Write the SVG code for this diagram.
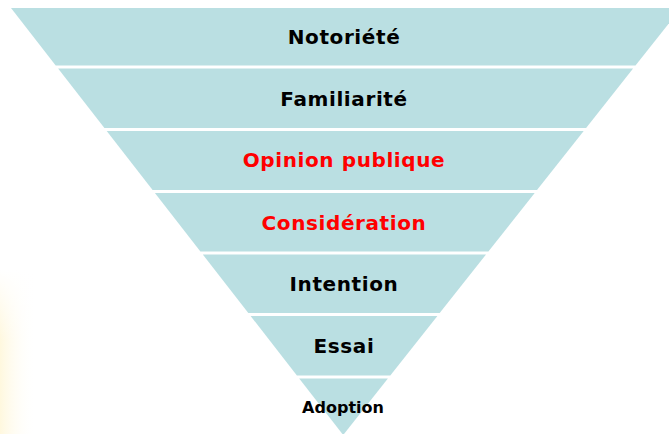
<svg xmlns="http://www.w3.org/2000/svg" width="669" height="434" viewBox="0 0 669 434">
  <style>
    .band { fill: #BADFE2; }
    .lbl { font-family: "DejaVu Sans", Verdana, sans-serif; font-weight: bold; font-size: 20px; letter-spacing: 0.6px; text-anchor: middle; fill: #000000; }
    .red { fill: #FF0000; }
    .small { font-size: 16px; letter-spacing: 0px; }
  </style>
  <defs>
    <linearGradient id="glow" x1="0" y1="0" x2="1" y2="0">
      <stop offset="0" stop-color="#FFF3C8" stop-opacity="0.6"/>
      <stop offset="1" stop-color="#FFFFFF" stop-opacity="0"/>
    </linearGradient>
    <linearGradient id="glowV" x1="0" y1="0" x2="0" y2="1">
      <stop offset="0" stop-color="#FFFFFF" stop-opacity="1"/>
      <stop offset="1" stop-color="#FFFFFF" stop-opacity="0"/>
    </linearGradient>
  </defs>
  <rect width="669" height="434" fill="#FFFFFF"/>
  <rect x="0" y="270" width="36" height="164" fill="url(#glow)"/>
  <rect x="0" y="270" width="36" height="70" fill="url(#glowV)"/>

  <g id="notoriete">
    <polygon class="band" points="11,8 681,8 635.5,65.5 55.7,65.5"/>
    <text class="lbl" x="344" y="44">Notoriété</text>
  </g>
  <g id="familiarite">
    <polygon class="band" points="58.1,68.5 633.1,68.5 586.1,128 104.4,128"/>
    <text class="lbl" x="344" y="105.5">Familiarité</text>
  </g>
  <g id="opinion">
    <polygon class="band" points="106.7,131 583.7,131 537,190 152.6,190"/>
    <text class="lbl red" x="344" y="167">Opinion publique</text>
  </g>
  <g id="consideration">
    <polygon class="band" points="154.9,193 534.7,193 488.4,251.5 200.4,251.5"/>
    <text class="lbl red" x="344" y="230">Considération</text>
  </g>
  <g id="intention">
    <polygon class="band" points="202.8,254.5 486,254.5 439.7,313 248.3,313"/>
    <text class="lbl" x="344" y="291">Intention</text>
  </g>
  <g id="essai">
    <polygon class="band" points="250.6,316 437.4,316 390.3,375.5 296.9,375.5"/>
    <text class="lbl" x="344" y="352.5">Essai</text>
  </g>
  <g id="adoption">
    <polygon class="band" points="299.2,378.5 387.9,378.5 343.2,435"/>
    <text class="lbl small" x="343" y="413">Adoption</text>
  </g>
  <g id="connectors"/>
</svg>
